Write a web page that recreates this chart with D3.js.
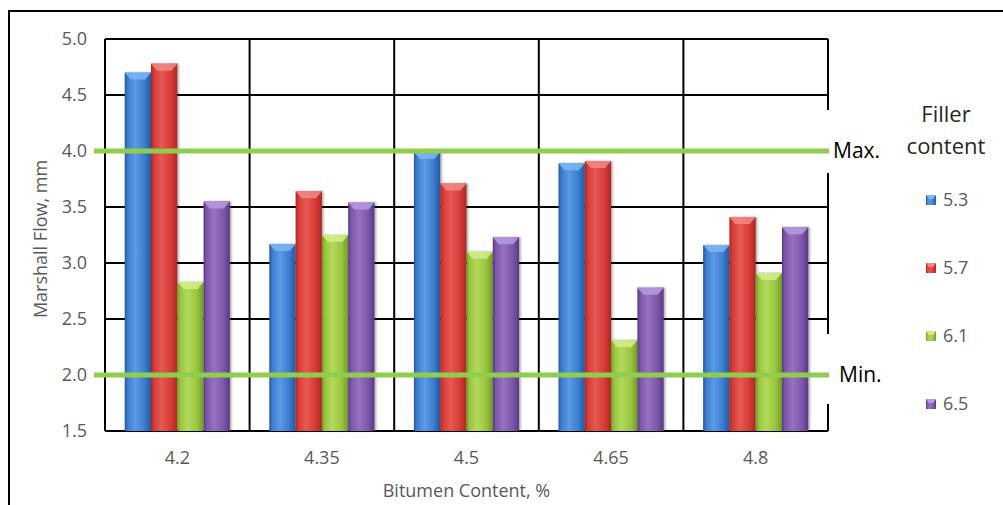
<!DOCTYPE html>
<html>
<head>
<meta charset="utf-8">
<script src="https://cdn.jsdelivr.net/npm/d3@7/dist/d3.min.js"></script>
<style>
  html, body { margin: 0; padding: 0; background: #fff; }
  svg { display: block; font-family: "Open Sans", sans-serif; }
</style>
</head>
<body>
<svg id="chart" width="1003" height="505"></svg>
<script>
// Bitumen content on the x axis, one bar per filler content
const categories = ["4.2", "4.35", "4.5", "4.65", "4.8"];
const seriesNames = ["5.3", "5.7", "6.1", "6.5"];
const flow53 = [4.70, 3.17, 3.99, 3.89, 3.16];
const flow57 = [4.78, 3.64, 3.71, 3.91, 3.41];
const flow61 = [2.83, 3.25, 3.10, 2.31, 2.91];
const flow65 = [3.55, 3.54, 3.23, 2.78, 3.32];
const yTicks = [1.5, 2.0, 2.5, 3.0, 3.5, 4.0, 4.5, 5.0];
const specLimits = [{ label: "Max.", value: 4.0 }, { label: "Min.", value: 2.0 }];

const seriesValues = [flow53, flow57, flow61, flow65];
const palette = {
  "5.3": { base: "#3b7dd1", dark: "#2558a0", light: "#5c9ae3", cap: "#7fb6f2" },
  "5.7": { base: "#d83b36", dark: "#a82824", light: "#e55a55", cap: "#f08a86" },
  "6.1": { base: "#9ac53f", dark: "#6f9a25", light: "#b2d95c", cap: "#d2ee8a" },
  "6.5": { base: "#7e57ab", dark: "#573a82", light: "#9671c2", cap: "#b89be0" }
};

const svg = d3.select("#chart");
const plot = { left: 105, right: 828, top: 39, bottom: 431 };

const x0 = d3.scaleBand().domain(categories).range([plot.left, plot.right]).padding(0);
const x1 = d3.scaleBand().domain(seriesNames).range([0, x0.bandwidth()])
  .paddingInner(0).paddingOuter(0.75);
const y = d3.scaleLinear().domain([1.5, 5.0]).range([plot.bottom, plot.top]);

// gradients giving each bar a rounded, lit look
const defs = svg.append("defs");
seriesNames.forEach((s, i) => {
  const c = palette[s];
  const g = defs.append("linearGradient").attr("id", "grad" + i)
    .attr("x1", "0%").attr("x2", "100%").attr("y1", "0%").attr("y2", "0%");
  [[0, c.dark], [0.12, c.base], [0.4, c.light], [0.75, c.base], [1, c.dark]]
    .forEach(([o, col]) => g.append("stop").attr("offset", o).attr("stop-color", col));
});
const shadow = defs.append("filter").attr("id", "barShadow")
  .attr("x", "-20%").attr("y", "-5%").attr("width", "150%").attr("height", "115%");
shadow.append("feDropShadow").attr("dx", 1.5).attr("dy", 0).attr("stdDeviation", 1.2)
  .attr("flood-color", "#000").attr("flood-opacity", 0.35);

// outer frame
svg.append("rect").attr("x", 9).attr("y", 11).attr("width", 1010).attr("height", 510)
  .attr("fill", "none").attr("stroke", "#000").attr("stroke-width", 2);

// gridlines
const grid = svg.append("g");
grid.selectAll("line.h").data(yTicks).join("line")
  .attr("x1", plot.left).attr("x2", plot.right)
  .attr("y1", d => y(d)).attr("y2", d => y(d))
  .attr("stroke", "#000").attr("stroke-width", 2);
const boundaries = categories.map(c => x0(c)).concat([plot.right]);
grid.selectAll("line.v").data(boundaries).join("line")
  .attr("x1", d => d).attr("x2", d => d)
  .attr("y1", plot.top).attr("y2", plot.bottom)
  .attr("stroke", "#000").attr("stroke-width", 2);

// bars
const barData = [];
seriesNames.forEach((s, si) => {
  categories.forEach((c, ci) => barData.push({ s, si, c, v: seriesValues[si][ci] }));
});
const bars = svg.append("g");
const barG = bars.selectAll("g").data(barData).join("g");
barG.append("rect")
  .attr("x", d => x0(d.c) + x1(d.s))
  .attr("y", d => y(d.v))
  .attr("width", x1.bandwidth())
  .attr("height", d => y(1.5) - y(d.v))
  .attr("fill", d => `url(#grad${d.si})`)
  .attr("filter", "url(#barShadow)");
// bevelled top
barG.append("path")
  .attr("d", d => {
    const bx = x0(d.c) + x1(d.s), w = x1.bandwidth(), ty = y(d.v);
    return `M${bx},${ty} L${bx + w},${ty} L${bx + w - 6},${ty + 7} L${bx + 6},${ty + 7} Z`;
  })
  .attr("fill", d => palette[d.s].cap).attr("opacity", 0.85);

// white label boxes at the right edge of the plot
svg.append("g").selectAll("rect").data(specLimits).join("rect")
  .attr("x", plot.right - 2).attr("width", 72)
  .attr("y", d => y(d.value) - 41).attr("height", d => d.label === "Max." ? 63 : 70)
  .attr("fill", "#fff");

// specification limit lines
svg.append("g").selectAll("line").data(specLimits).join("line")
  .attr("x1", 94).attr("x2", plot.right + 1)
  .attr("y1", d => y(d.value)).attr("y2", d => y(d.value))
  .attr("stroke", "#8fcd4c").attr("stroke-width", 5);
svg.append("g").selectAll("text").data(specLimits).join("text")
  .attr("x", d => d.label === "Max." ? 833 : 839)
  .attr("y", d => y(d.value) + 7)
  .attr("font-size", 21).attr("fill", "#000")
  .text(d => d.label);

// y axis labels
const yAxis = d3.axisLeft(y).tickValues(yTicks).tickFormat(d3.format(".1f")).tickSize(0).tickPadding(18);
svg.append("g").attr("transform", `translate(${plot.left},0)`).call(yAxis)
  .call(g => g.select(".domain").remove())
  .call(g => g.selectAll("text").attr("font-size", 18).attr("fill", "#595959")
    .attr("font-family", "Open Sans"));

// x axis labels
const xAxis = d3.axisBottom(x0).tickSize(0).tickPadding(20);
svg.append("g").attr("transform", `translate(0,${plot.bottom})`).call(xAxis)
  .call(g => g.select(".domain").remove())
  .call(g => g.selectAll("text").attr("font-size", 18).attr("fill", "#595959")
    .attr("font-family", "Open Sans"));

// axis titles
svg.append("text").attr("x", (plot.left + plot.right) / 2).attr("y", 497)
  .attr("text-anchor", "middle").attr("font-size", 18).attr("fill", "#595959")
  .text("Bitumen Content, %");
svg.append("text").attr("transform", `translate(47,${(plot.top + plot.bottom) / 2 + 4}) rotate(-90)`)
  .attr("text-anchor", "middle").attr("font-size", 18).attr("fill", "#595959")
  .text("Marshall Flow, mm");

// legend
const legend = svg.append("g");
legend.append("text").attr("x", 946).attr("y", 122).attr("text-anchor", "middle")
  .attr("font-size", 22).attr("fill", "#262626").text("Filler");
legend.append("text").attr("x", 946).attr("y", 154).attr("text-anchor", "middle")
  .attr("font-size", 22).attr("fill", "#262626").text("content");
const legendY = d3.scalePoint().domain(seriesNames).range([200, 404]);
const item = legend.selectAll("g.item").data(seriesNames).join("g")
  .attr("transform", d => `translate(926,${legendY(d)})`);
item.append("rect").attr("x", 0).attr("y", -5).attr("width", 10).attr("height", 10)
  .attr("fill", (d, i) => `url(#grad${i})`);
item.append("path").attr("d", "M0,-5 L10,-5 L7,-1 L3,-1 Z")
  .attr("fill", d => palette[d].cap);
item.append("text").attr("x", 17).attr("y", 0).attr("dy", "0.35em")
  .attr("font-size", 18).attr("fill", "#595959").text(d => d);
</script>
</body>
</html>
